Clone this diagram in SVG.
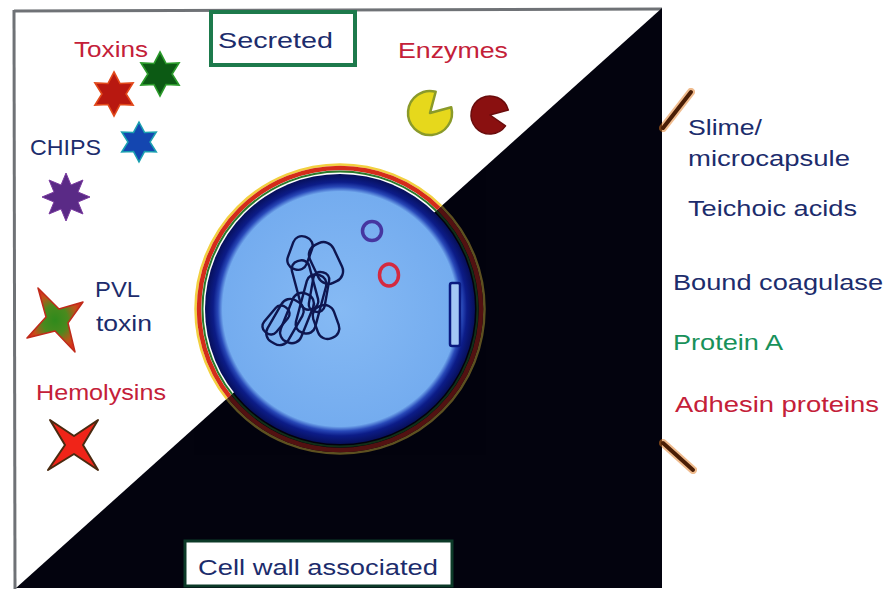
<svg xmlns="http://www.w3.org/2000/svg" width="889" height="592" viewBox="0 0 889 592">
  <style>
    .lbl { font-family: "Liberation Sans", "DejaVu Sans", sans-serif; font-size: 22px; }
    .navy { fill: #1c2c6c; }
    .red { fill: #c42038; }
    .green { fill: #18915a; }
    .chromo rect { fill: none; stroke: #0e1650; stroke-width: 2.4; }
    .tick { stroke: #4a1e06; stroke-width: 4; stroke-linecap: round; }
    .tickglow { stroke: #e07a20; stroke-width: 8; stroke-linecap: round; opacity: 0.5; }
  </style>
  <defs>
    <polygon id="star6" points="0,-20 5.5,-9.53 17.32,-10 11,0 17.32,10 5.5,9.53 0,20 -5.5,9.53 -17.32,10 -11,0 -17.32,-10 -5.5,-9.53"/>
    <polygon id="star8" points="0,-24 4.97,-12.01 16.97,-16.97 12.01,-4.97 24,0 12.01,4.97 16.97,16.97 4.97,12.01 0,24 -4.97,12.01 -16.97,16.97 -12.01,4.97 -24,0 -12.01,-4.97 -16.97,-16.97 -4.97,-12.01"/>
    <radialGradient id="discFill" cx="0.5" cy="0.5" r="0.5">
      <stop offset="0" stop-color="#86baf4"/>
      <stop offset="0.87" stop-color="#74acef"/>
      <stop offset="0.905" stop-color="#2848b8"/>
      <stop offset="0.94" stop-color="#0c1c88"/>
      <stop offset="1" stop-color="#070f5a"/>
    </radialGradient>
    <radialGradient id="pvlFill" cx="0.5" cy="0.5" r="0.5">
      <stop offset="0" stop-color="#2f8a1c"/>
      <stop offset="0.45" stop-color="#4a8a1e"/>
      <stop offset="0.8" stop-color="#c0521a"/>
      <stop offset="1" stop-color="#d8301a"/>
    </radialGradient>
    <clipPath id="lightHalf">
      <polygon points="0,0 662,0 662,8 16,588 0,588"/>
    </clipPath>
    <clipPath id="darkHalf">
      <polygon points="662,8 662,588 16,588"/>
    </clipPath>
    <g id="rings" fill="none">
      <circle cx="340" cy="309" r="144.5" stroke="#f2d040" stroke-width="2.5"/>
      <circle cx="340" cy="309" r="141" stroke="#d42c1a" stroke-width="4.5"/>
      <circle cx="340" cy="309" r="137.5" stroke="#2c7a2a" stroke-width="2"/>
    </g>
  </defs>

  <!-- page -->
  <rect width="889" height="592" fill="#ffffff"/>

  <!-- frame -->
  <g id="frame">
    <line x1="14" y1="11" x2="662" y2="9" stroke="#6f7276" stroke-width="3"/>
    <line x1="14" y1="10" x2="15" y2="589" stroke="#6f7276" stroke-width="3"/>
    <polygon points="662,8 662,588 16,588" fill="#03030e"/>
  </g>

  <!-- cell -->
  <g id="cell">
    <use href="#rings" clip-path="url(#lightHalf)"/>
    <use href="#rings" clip-path="url(#darkHalf)" opacity="0.38"/>
    <circle cx="340" cy="309" r="135" fill="url(#discFill)"/>
    <rect x="450" y="283" width="10" height="63" rx="2" fill="#a4c8f4" stroke="#0a1a80" stroke-width="2.5"/>
    <circle cx="372" cy="231" r="9.5" fill="none" stroke="#4636a0" stroke-width="3.5"/>
    <ellipse cx="389" cy="275" rx="9.5" ry="11" fill="none" stroke="#d42a40" stroke-width="3.5"/>
    <g class="chromo">
      <rect x="-10" y="-17" width="20" height="34" rx="9" transform="translate(300,253) rotate(20)"/>
      <rect x="-13" y="-21" width="26" height="42" rx="11" transform="translate(326,263) rotate(-25)"/>
      <rect x="-12" y="-24" width="24" height="48" rx="10" transform="translate(285,322) rotate(30)"/>
      <rect x="-11" y="-26" width="22" height="52" rx="10" transform="translate(297,318) rotate(22)"/>
      <rect x="-10" y="-30" width="20" height="60" rx="9" transform="translate(311,304) rotate(15)"/>
      <rect x="-11" y="-17" width="22" height="34" rx="10" transform="translate(326,322) rotate(-20)"/>
      <rect x="-9" y="-25" width="18" height="50" rx="8" transform="translate(305,285) rotate(-15)"/>
      <rect x="-8" y="-20" width="16" height="40" rx="7" transform="translate(319,292) rotate(10)"/>
      <rect x="-8" y="-16" width="16" height="32" rx="7" transform="translate(276,320) rotate(40)"/>
    </g>
  </g>

  <!-- section titles -->
  <g id="secreted">
    <rect x="211" y="12" width="144" height="53" fill="#ffffff" stroke="#1d7a4c" stroke-width="4"/>
    <text class="lbl navy" x="218" y="48" textLength="115" lengthAdjust="spacingAndGlyphs">Secreted</text>
  </g>
  <g id="cell-wall-associated">
    <rect x="185" y="541" width="267" height="45" fill="#ffffff" stroke="#0c3a28" stroke-width="3"/>
    <text class="lbl navy" x="198" y="575" textLength="240" lengthAdjust="spacingAndGlyphs">Cell wall associated</text>
  </g>

  <!-- secreted factors -->
  <g id="toxins">
    <text class="lbl red" x="74" y="57" font-size="20" textLength="74" lengthAdjust="spacingAndGlyphs">Toxins</text>
    <use href="#star6" transform="translate(114,94) scale(1.1)" fill="#b81810" stroke="#e2481a" stroke-width="1.5"/>
    <use href="#star6" transform="translate(160,74) scale(1.1)" fill="#0c5a14" stroke="#2a9a2a" stroke-width="1.5"/>
  </g>
  <g id="chips">
    <text class="lbl navy" x="30" y="155" font-size="20" textLength="71" lengthAdjust="spacingAndGlyphs">CHIPS</text>
    <use href="#star6" transform="translate(139,142)" fill="#1446b0" stroke="#1aa0b0" stroke-width="1.5"/>
    <use href="#star8" transform="translate(66,197)" fill="#5a2a86" stroke="#7a3aa0" stroke-width="1"/>
  </g>
  <g id="pvl-toxin">
    <polygon points="38,288 59,309 83,302 68,323 75,352 55,331 27,338 46,317" fill="url(#pvlFill)" stroke="#c02a1a" stroke-width="1.5" stroke-linejoin="round"/>
    <text class="lbl navy" x="95" y="297" textLength="45" lengthAdjust="spacingAndGlyphs">PVL</text>
    <text class="lbl navy" x="96" y="331" textLength="56" lengthAdjust="spacingAndGlyphs">toxin</text>
  </g>
  <g id="hemolysins">
    <text class="lbl red" x="36" y="400" textLength="130" lengthAdjust="spacingAndGlyphs">Hemolysins</text>
    <polygon points="50,420 74,436 98,420 83,445 98,470 74,454 48,470 65,445" fill="#f02418" stroke="#4a2a10" stroke-width="2" stroke-linejoin="round"/>
  </g>
  <g id="enzymes">
    <text class="lbl red" x="398" y="58" textLength="110" lengthAdjust="spacingAndGlyphs">Enzymes</text>
    <path d="M430,113 L451.25,107.31 A22,22 0 1 1 435.69,91.75 Z" fill="#e6d81c" stroke="#8a9a2a" stroke-width="2.5" stroke-linejoin="round"/>
    <path d="M490,115 L505.56,125.9 A19,19 0 1 1 508.35,110.08 Z" fill="#8a1010" stroke="#6a0c0c" stroke-width="1.5" stroke-linejoin="round"/>
  </g>

  <!-- brackets for the cell-wall list -->
  <g id="connectors">
    <line class="tickglow" x1="663" y1="128" x2="691" y2="92"/>
    <line class="tick" x1="663" y1="128" x2="691" y2="92"/>
    <line class="tickglow" x1="663" y1="443" x2="693" y2="470"/>
    <line class="tick" x1="663" y1="443" x2="693" y2="470"/>
  </g>

  <!-- cell-wall associated factors -->
  <g id="slime">
    <text class="lbl navy" x="688" y="135" textLength="74" lengthAdjust="spacingAndGlyphs">Slime/</text>
    <text class="lbl navy" x="688" y="166" textLength="162" lengthAdjust="spacingAndGlyphs">microcapsule</text>
  </g>
  <g id="teichoic">
    <text class="lbl navy" x="688" y="216" textLength="169" lengthAdjust="spacingAndGlyphs">Teichoic acids</text>
  </g>
  <g id="coagulase">
    <text class="lbl navy" x="673" y="290" textLength="210" lengthAdjust="spacingAndGlyphs">Bound coagulase</text>
  </g>
  <g id="protein-a">
    <text class="lbl green" x="673" y="350" textLength="110" lengthAdjust="spacingAndGlyphs">Protein A</text>
  </g>
  <g id="adhesins">
    <text class="lbl red" x="675" y="412" textLength="204" lengthAdjust="spacingAndGlyphs">Adhesin proteins</text>
  </g>
</svg>
